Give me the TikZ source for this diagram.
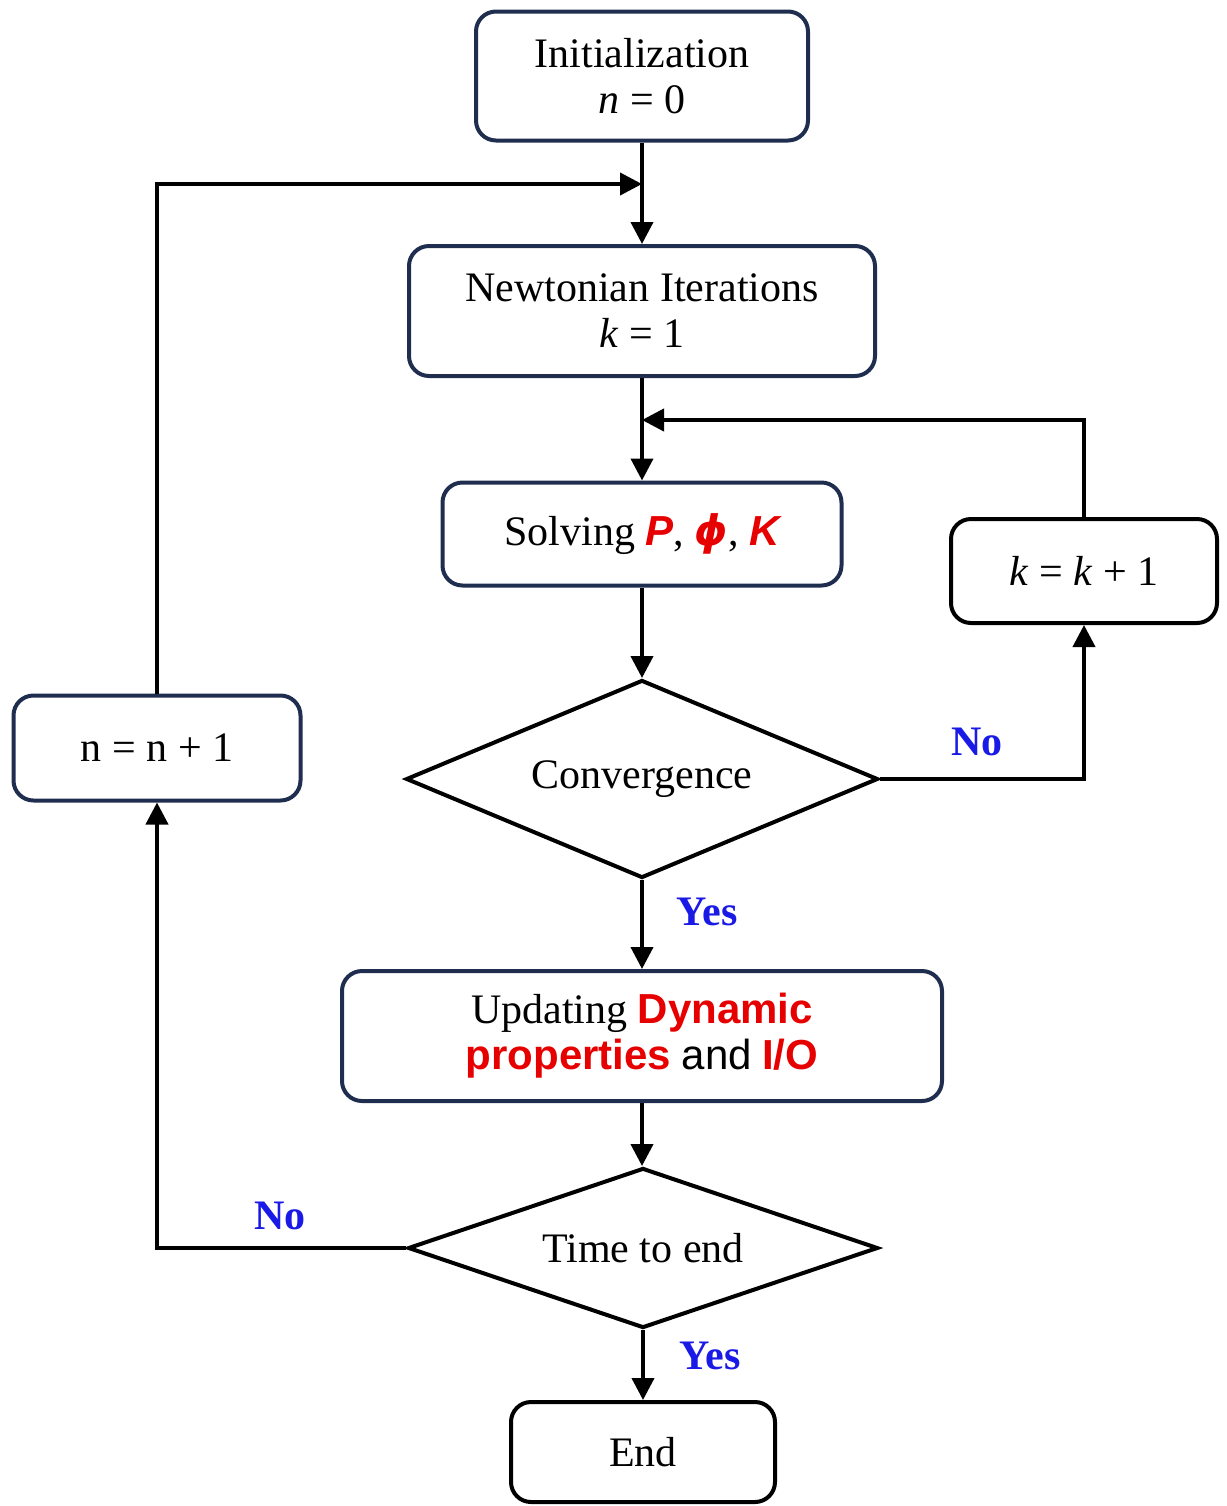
\documentclass[tikz,border=0pt]{standalone}
\usepackage{fontspec}
\setmainfont{Liberation Serif}
\setsansfont{Liberation Sans}
\newfontfamily\phifont{DejaVu Sans}
\usetikzlibrary{shapes.geometric,arrows.meta}
\definecolor{navy}{HTML}{1F2D4F}
\definecolor{lblblue}{HTML}{1A1AE6}
\definecolor{hired}{HTML}{E60000}
\begin{document}
\begin{tikzpicture}[x=0.5pt,y=-0.5pt,
  every node/.style={font=\fontsize{21}{23}\selectfont},
  procbox/.style={draw=navy,line width=2pt,rounded corners=10pt,align=center,inner sep=0pt},
  blackbox/.style={draw=black,line width=2pt,rounded corners=10pt,align=center,inner sep=0pt},
  decision/.style={draw=black,line width=2pt,diamond,inner sep=0pt,aspect=2.4},
  conn/.style={line width=2pt,-{Triangle[length=11pt,width=11pt]}},
  lbl/.style={text=lblblue,font=\fontsize{21}{23}\selectfont\bfseries}]
\useasboundingbox (0,0) rectangle (1227,1506);
\node[procbox,minimum width=166pt,minimum height=64.5pt] (init) at (642,76) {Initialization\\\textit{n} = 0};
\node[procbox,minimum width=233pt,minimum height=65pt] (newton) at (642,311) {Newtonian Iterations\\\textit{k} = 1};
\node[procbox,minimum width=199.5pt,minimum height=51.5pt] (solve) at (642,534) {Solving {\sffamily\bfseries\itshape\color{hired}P}, {\phifont\bfseries\itshape\color{hired}ϕ}, {\sffamily\bfseries\itshape\color{hired}K}};
\node[decision,minimum width=236pt,minimum height=99pt] (conv) at (642,779) {Convergence};
\node[blackbox,minimum width=133pt,minimum height=52pt] (kk) at (1084,571) {\textit{k} = \textit{k} + 1};
\node[procbox,minimum width=300pt,minimum height=65pt] (upd) at (642,1036) {Updating {\sffamily\bfseries\color{hired}Dynamic}\\{\sffamily\bfseries\color{hired}properties} {\sffamily and} {\sffamily\bfseries\color{hired}I/O}};
\node[decision,minimum width=235pt,minimum height=80pt] (time) at (643,1248) {Time to end};
\node[procbox,minimum width=143.5pt,minimum height=52.5pt] (nbox) at (157,748) {n = n + 1};
\node[blackbox,minimum width=132pt,minimum height=50pt] (end) at (643,1452) {End};
\coordinate (j1) at (642,184);
\coordinate (j2) at (642,420);
\draw[conn] (init.south) -- (newton.north);
\draw[conn] (nbox.north) |- (j1);
\draw[conn] (newton.south) -- (solve.north);
\draw[conn] (kk.north) |- (j2);
\draw[conn] (solve.south) -- (conv.north);
\draw[conn] (conv.east) -| (kk.south);
\draw[conn] (conv.south) -- (upd.north);
\draw[conn] (upd.south) -- (time.north -| upd.south);
\draw[conn] (time.west) -| (nbox.south);
\draw[conn] (time.south -| end.north) -- (end.north);
\node[lbl] (no1) at (977,742) {No};
\node[lbl] (yes1) at (707,912) {Yes};
\node[lbl] (no2) at (280,1216) {No};
\node[lbl] (yes2) at (710,1356) {Yes};
\end{tikzpicture}
\end{document}
